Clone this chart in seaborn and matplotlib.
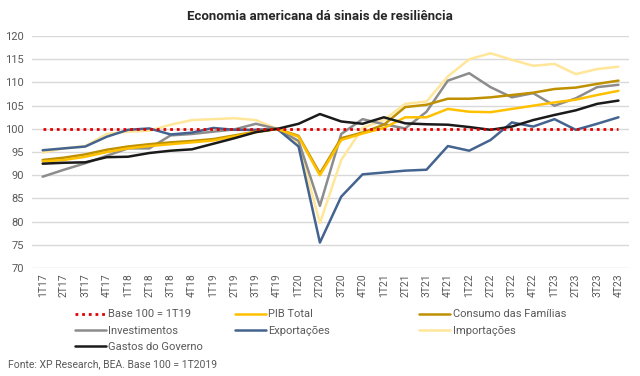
import pandas as pd
import seaborn as sns
import matplotlib.pyplot as plt

# dados (índice, base 100)
trimestres = ['1T17', '2T17', '3T17', '4T17', '1T18', '2T18', '3T18', '4T18',
              '1T19', '2T19', '3T19', '4T19', '1T20', '2T20', '3T20', '4T20',
              '1T21', '2T21', '3T21', '4T21', '1T22', '2T22', '3T22', '4T22',
              '1T23', '2T23', '3T23', '4T23']
base = [100] * len(trimestres)
pib_total = [93.0, 93.3, 94.0, 95.0, 95.8, 96.3, 96.7, 97.1, 97.5, 98.4, 99.3, 100.0,
             98.3, 90.0, 97.6, 99.0, 100.2, 102.5, 102.5, 104.3, 103.7, 103.6, 104.3, 105.0,
             105.7, 106.3, 107.3, 108.2]
consumo = [93.3, 93.8, 94.5, 95.5, 96.2, 96.7, 97.1, 97.4, 97.8, 98.6, 99.4, 100.0,
           98.5, 90.4, 98.0, 99.2, 100.9, 104.7, 105.2, 106.5, 106.5, 106.8, 107.3, 107.8,
           108.6, 108.9, 109.7, 110.4]
investimentos = [89.7, 91.2, 92.6, 94.2, 95.8, 95.8, 98.6, 98.9, 99.4, 99.9, 101.1, 100.0,
                 97.4, 83.4, 98.9, 102.1, 101.0, 100.1, 103.7, 110.4, 112.0, 109.0, 106.8, 107.7,
                 105.0, 106.6, 109.0, 109.5]
exportacoes = [95.4, 95.8, 96.2, 98.3, 99.8, 100.1, 98.8, 99.2, 100.2, 99.8, 99.8, 100.0,
               96.2, 75.5, 85.4, 90.2, 90.6, 91.0, 91.2, 96.3, 95.3, 97.6, 101.4, 100.5,
               102.1, 99.8, 101.1, 102.5]
importacoes = [94.9, 95.8, 96.3, 98.9, 99.4, 99.6, 100.9, 101.9, 102.1, 102.3, 101.9, 100.0,
               96.9, 79.7, 93.3, 100.2, 101.9, 105.4, 105.9, 111.3, 115.0, 116.3, 114.9, 113.6,
               114.0, 111.8, 112.9, 113.4]
gastos_governo = [92.5, 92.7, 92.8, 93.9, 94.0, 94.8, 95.3, 95.6, 96.8, 98.0, 99.3, 100.0,
                  101.1, 103.2, 101.6, 101.1, 102.5, 101.2, 101.0, 100.9, 100.4, 99.8, 100.5, 101.9,
                  103.0, 104.0, 105.4, 106.1]

series = {
    'Importações': (importacoes, '#FFE699'),
    'Investimentos': (investimentos, '#8C8C8C'),
    'Exportações': (exportacoes, '#44648F'),
    'Consumo das Famílias': (consumo, '#BF9000'),
    'PIB Total': (pib_total, '#FFC000'),
    'Gastos do Governo': (gastos_governo, '#1A1A1A'),
}

sns.set_style('white')
plt.rcParams['font.family'] = ['Roboto', 'DejaVu Sans']

fig = plt.figure(figsize=(6.4, 3.76), dpi=100)
ax = fig.add_axes([0.05, 0.287, 0.933, 0.617])

for nome, (vals, cor) in series.items():
    sns.lineplot(x=trimestres, y=vals, ax=ax, color=cor, linewidth=1.8,
                 label=nome, sort=False)
sns.lineplot(x=trimestres, y=base, ax=ax, color='#E00000', linewidth=2,
             linestyle=(0, (1, 1.4)), label='Base 100 = 1T19', sort=False)

ax.set_xlim(-0.5, len(trimestres) - 0.5)
ax.set_ylim(70, 120)
ax.set_yticks(range(70, 121, 5))
ax.yaxis.grid(True, color='#D9D9D9', linewidth=1)
ax.set_axisbelow(True)
for s in ax.spines.values():
    s.set_visible(False)
ax.tick_params(axis='x', labelrotation=90, labelsize=7.5, colors='#595959', length=0, pad=4)
ax.tick_params(axis='y', labelsize=8, colors='#595959', length=0, pad=6)
ax.set_xlabel('')
ax.set_ylabel('')

# legenda em 3 colunas fixas (como no Excel)
handles, labels = ax.get_legend_handles_labels()
hmap = dict(zip(labels, handles))
ax.get_legend().remove()
colunas = [
    (0.117, ['Base 100 = 1T19', 'Investimentos', 'Gastos do Governo']),
    (0.367, ['PIB Total', 'Exportações']),
    (0.655, ['Consumo das Famílias', 'Importações']),
]
for xpos, nomes in colunas:
    fig.legend([hmap[k] for k in nomes], nomes, loc='upper left',
               bbox_to_anchor=(xpos, 0.177), frameon=False, fontsize=8,
               handlelength=2.8, handletextpad=0.2, labelspacing=0.55,
               labelcolor='#595959', borderaxespad=0, borderpad=0)

fig.text(0.5, 0.955, 'Economia americana dá sinais de resiliência', ha='center',
         va='center', fontsize=9.5, fontweight='bold', color='#262626')
fig.text(0.012, 0.032, 'Fonte: XP Research, BEA. Base 100 = 1T2019', ha='left',
         va='center', fontsize=7.5, color='#595959')

plt.savefig('out.png', dpi=100)
